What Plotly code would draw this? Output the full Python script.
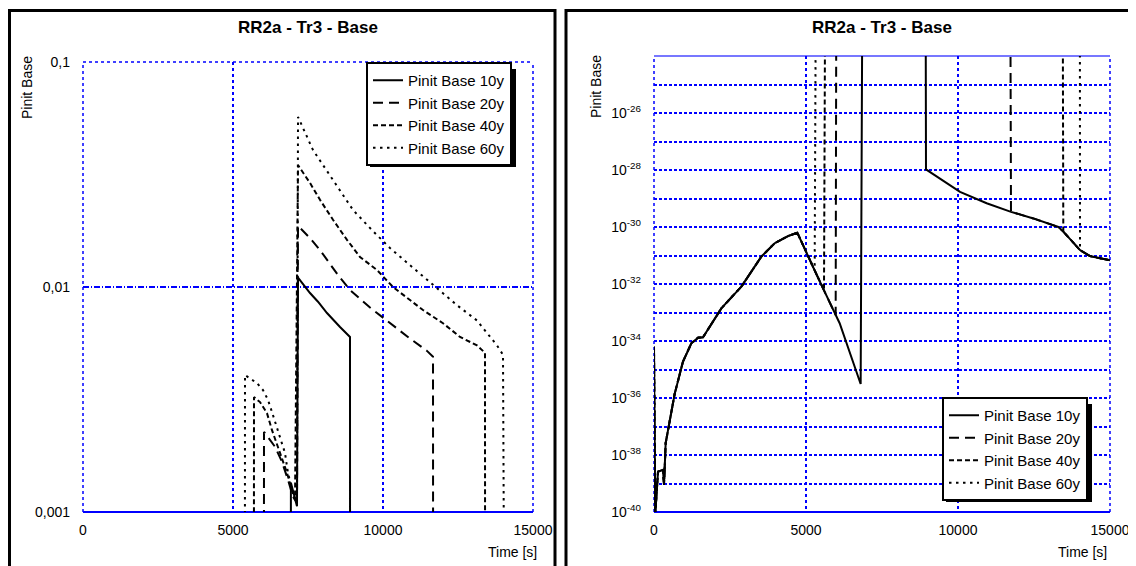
import plotly.graph_objects as go

# ---------------- data ----------------
# common low-level curve before the jumps (Time [s], Pinit Base)
t_base_early = [0, 40, 132, 296, 329, 384, 680, 954, 1228, 1447, 1612, 1776, 2215,
                2873, 3531, 3970, 4408, 4715, 5066, 5285, 5592, 5976, 6107, 6798]
p_base_early = [6.3e-35, 7.9e-41, 2.6e-39, 3.0e-39, 8.9e-40, 2.6e-38, 1.4e-36, 1.9e-35,
                8.3e-35, 1.3e-34, 1.35e-34, 2.5e-34, 1.4e-33, 8.1e-33, 9.1e-32, 2.7e-31,
                4.8e-31, 6.3e-31, 9.1e-32, 3.0e-32, 6.0e-33, 8.1e-34, 4.2e-34, 3.1e-36]

# common low-level curve after the drops
t_base_late = [8947, 9299, 10066, 10943, 11743, 12478, 13300, 13464, 14013, 14342, 15000]
p_base_late = [1.05e-28, 5.9e-29, 1.7e-29, 6.8e-30, 3.4e-30, 2.0e-30, 1.0e-30, 6.9e-31,
               1.55e-31, 9.5e-32, 6.8e-32]

# high part of each series
t_10y = [6930, 7133, 7167, 7567, 7833, 8133, 8567, 8900]
p_10y = [0.00135, 0.00106, 0.011, 0.0094, 0.0086, 0.00766, 0.00664, 0.006]

t_20y = [6033, 6400, 6633, 6833, 7000, 7133, 7167, 7567, 7900, 8500, 8900, 9567,
         10233, 10900, 11467, 11667]
p_20y = [0.00227, 0.00195, 0.00167, 0.00139, 0.00117, 0.0011, 0.0187, 0.0165, 0.0146,
         0.0113, 0.0097, 0.0081, 0.0069, 0.0059, 0.0052, 0.0049]

t_40y = [5700, 5900, 6133, 6300, 6567, 6800, 6967, 7067, 7167, 7567, 7900, 8333, 8800,
         9233, 9800, 10333, 10900, 11333, 12000, 12567, 13133, 13400]
p_40y = [0.00324, 0.00308, 0.00275, 0.00231, 0.00183, 0.00149, 0.00125, 0.00113, 0.0348,
         0.029, 0.0244, 0.0199, 0.0162, 0.0136, 0.0119, 0.0100, 0.00875, 0.0079, 0.0069,
         0.0060, 0.0055, 0.0051]

t_60y = [5400, 5800, 6000, 6167, 6300, 6500, 6733, 6833, 7000, 7133, 7167, 7667, 8167,
         8567, 9000, 9633, 10233, 10900, 11800, 12467, 13133, 13800, 14000]
p_60y = [0.00406, 0.00374, 0.00348, 0.00315, 0.00278, 0.00231, 0.00183, 0.00149, 0.00121,
         0.0011, 0.057, 0.0406, 0.0324, 0.027, 0.022, 0.0179, 0.0149, 0.0125, 0.0099,
         0.0083, 0.0071, 0.0055, 0.005]

names = ["Pinit Base 10y", "Pinit Base 20y", "Pinit Base 40y", "Pinit Base 60y"]
x_ticks = [0, 5000, 10000, 15000]
x_text = ["0", "5000", "10000", "15000"]
y1_ticks = [0.001, 0.01, 0.1]
y1_text = ["0,001", "0,01", "0,1"]
y2_exps = [-40, -38, -36, -34, -32, -30, -28, -26]
y2_minor_exps = [-39, -37, -35, -33, -31, -29, -27, -25]
title_text = "RR2a - Tr3 - Base"


def build(t_high, p_high):
    """assemble one series: base curve before the jump, the high part, base curve after."""
    t0, t1 = t_high[0], t_high[-1]
    ts = [t for t in t_base_early if t < t0] + t_high + [t for t in t_base_late if t > t1]
    ps = ([p for t, p in zip(t_base_early, p_base_early) if t < t0] + p_high +
          [p for t, p in zip(t_base_late, p_base_late) if t > t1])
    return ts, ps


series = [build(t_10y, p_10y), build(t_20y, p_20y), build(t_40y, p_40y), build(t_60y, p_60y)]
dashes = ["solid", "10px,6px", "5px,3px", "2.5px,4.5px"]

# page has an 8px body margin: figure covers screen x 8..1136, y 8..566
OFF = 8
W, H = 1136 - OFF, 566 - OFF
FONT = "Liberation Sans, Arial, sans-serif"
BLUE = "rgb(0,0,255)"
GW = 1.5


def px(x):
    return (x - OFF) / W


def py(y):
    return 1 - (y - OFF) / H


fig = go.Figure()
for (ts, ps), nm, d in zip(series, names, dashes):
    fig.add_trace(go.Scatter(x=ts, y=ps, mode="lines", name=nm, xaxis="x", yaxis="y",
                             line=dict(color="black", width=2, dash=d), legend="legend"))
for (ts, ps), nm, d in zip(series, names, dashes):
    fig.add_trace(go.Scatter(x=ts, y=ps, mode="lines", name=nm, xaxis="x2", yaxis="y2",
                             line=dict(color="black", width=2, dash=d), legend="legend2"))

axis_common = dict(showgrid=True, zeroline=False, gridcolor=BLUE, gridwidth=GW,
                   ticks="", tickfont=dict(family=FONT, size=14, color="black"),
                   automargin=False, showline=False)

LEG_W, LEG_H = 146, 98
leg_centres = [(439, 114), (1015, 449)]
legend_common = dict(xanchor="center", yanchor="middle", bgcolor="white",
                     bordercolor="black", borderwidth=2, tracegroupgap=0,
                     font=dict(family=FONT, size=15, color="black"))

fig.update_layout(
    template="none",
    width=W, height=H, margin=dict(l=0, r=0, t=0, b=0, pad=0),
    paper_bgcolor="white", plot_bgcolor="white",
    font=dict(family=FONT, color="black"),
    xaxis=dict(domain=[px(83), px(533)], range=[0, 15000], tickvals=x_ticks,
               ticktext=x_text, griddash="dot", ticklabelstandoff=8, anchor="y",
               **axis_common),
    yaxis=dict(domain=[py(512), py(62)], type="log", range=[-3, -1], tickvals=y1_ticks,
               ticktext=y1_text, griddash="6px,2px,1px,2px", ticklabelstandoff=12,
               anchor="x", **axis_common),
    xaxis2=dict(domain=[px(654), px(1110)], range=[0, 15000], tickvals=x_ticks,
                ticktext=x_text, griddash="dot", ticklabelstandoff=8, anchor="y2",
                **axis_common),
    yaxis2=dict(domain=[py(512), py(56)], type="log", range=[-40, -24],
                tickvals=[10.0 ** e for e in y2_exps],
                ticktext=["10<sup>%d</sup>" % e for e in y2_exps],
                griddash="3px,2px", ticklabelstandoff=12, anchor="x2",
                minor=dict(tickvals=[10.0 ** e for e in y2_minor_exps], showgrid=True,
                           gridcolor=BLUE, gridwidth=GW, griddash="3px,2px", ticks=""),
                **axis_common),
    legend=dict(x=px(leg_centres[0][0]), y=py(leg_centres[0][1]), **legend_common),
    legend2=dict(x=px(leg_centres[1][0]), y=py(leg_centres[1][1]), **legend_common),
)

# titles and axis titles as annotations
ann = []
for cx in (308, 882):
    ann.append(dict(text="<b>%s</b>" % title_text, x=px(cx), y=py(27), xref="paper",
                    yref="paper", showarrow=False, xanchor="center", yanchor="middle",
                    font=dict(family=FONT, size=17, color="black")))
for cx, cy in ((27, 88), (596, 87)):
    ann.append(dict(text="Pinit Base", x=px(cx), y=py(cy), xref="paper", yref="paper",
                    showarrow=False, textangle=-90, xanchor="center", yanchor="middle",
                    font=dict(family=FONT, size=14, color="black")))
for cx in (512, 1082):
    ann.append(dict(text="Time [s]", x=px(cx), y=py(552), xref="paper", yref="paper",
                    showarrow=False, xanchor="center", yanchor="middle",
                    font=dict(family=FONT, size=14, color="black")))
fig.update_layout(annotations=ann)

shapes = []
# outer black frames of the two panels
for x0, x1 in ((9.5, 555), (566, 1131)):
    shapes.append(dict(type="rect", xref="paper", yref="paper", x0=px(x0), x1=px(x1),
                       y0=-0.05, y1=py(10.5), line=dict(color="black", width=3),
                       fillcolor="rgba(0,0,0,0)", layer="below"))

# drop shadows behind the legends
for cx, cy in leg_centres:
    shapes.append(dict(type="rect", xref="paper", yref="paper",
                       x0=px(cx - LEG_W / 2 + 4), x1=px(cx + LEG_W / 2 + 4),
                       y0=py(cy + LEG_H / 2 + 4), y1=py(cy - LEG_H / 2 + 4),
                       line=dict(width=0), fillcolor="black", layer="above"))


def edge(xr, yr, x0, y0, x1, y1, dash, width=1.5, color=BLUE):
    return dict(type="line", xref=xr, yref=yr, x0=x0, y0=y0, x1=x1, y1=y1,
                line=dict(color=color, width=width, dash=dash), layer="below")


# plot-area borders: left chart (dotted left/top/right, solid bottom)
shapes += [edge("x domain", "y domain", 0, 0, 0, 1, "dot"),
           edge("x domain", "y domain", 1, 0, 1, 1, "dot"),
           edge("x domain", "y domain", 0, 1, 1, 1, "dot"),
           edge("x domain", "y domain", 0, 0, 1, 0, "solid", 2)]
# right chart (dotted left/right, solid bottom, light solid top)
shapes += [edge("x2 domain", "y2 domain", 0, 0, 0, 1, "dot"),
           edge("x2 domain", "y2 domain", 1, 0, 1, 1, "dot"),
           edge("x2 domain", "y2 domain", 0, 1, 1, 1, "solid", 2, "#7777ff"),
           edge("x2 domain", "y2 domain", 0, 0, 1, 0, "solid", 2)]
fig.update_layout(shapes=shapes)

fig.write_html("out.html")
